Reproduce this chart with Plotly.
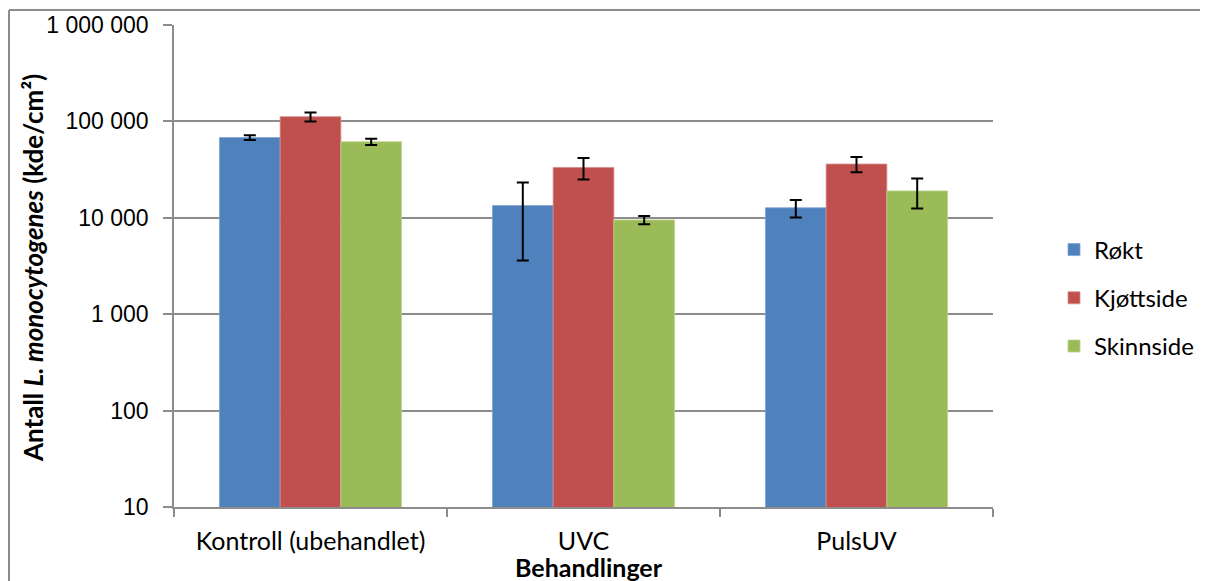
import plotly.graph_objects as go

categories = ["Kontroll (ubehandlet)", "UVC", "PulsUV"]
series_names = ["Røkt", "Kjøttside", "Skinnside"]
rokt = [68000, 13400, 12700]
rokt_err = [3800, 9800, 2600]
kjottside = [112000, 33300, 36100]
kjottside_err = [12000, 8300, 6500]
skinnside = [61500, 9500, 19000]
skinnside_err = [4700, 950, 6500]
tick_vals = [10, 100, 1000, 10000, 100000, 1000000]
tick_text = ["10", "100", "1 000", "10 000", "100 000", "1 000 000"]

colors = ["#4F81BD", "#C0504D", "#9BBB59"]
edge = ["#7FA3D1", "#D88A88", "#BCD38C"]

fig = go.Figure()
for i, (name, vals, errs, c, e) in enumerate(zip(series_names, [rokt, kjottside, skinnside],
                                  [rokt_err, kjottside_err, skinnside_err], colors, edge)):
    fig.add_trace(go.Bar(
        x=categories, y=vals, name=name, legendgroup=f"g{i}",
        marker=dict(color=c, line=dict(color=e, width=0.8)),
        error_y=dict(type="data", array=errs, visible=True, color="black",
                     thickness=2, width=6),
    ))

# page has an 8px body offset; compensate so plot area lands at x 174-993, y 25-507
OFF = 8
W, H = 1208 - OFF, 581 - OFF
L, T = 174 - OFF, 25 - OFF
pw, ph = 819, 482
R = W - L - pw
B = H - T - ph

FONT = "Lato, Calibri, sans-serif"

def px_x(x):  # page x -> paper x
    return (x - 174) / pw

def px_y(y):  # page y -> paper y
    return 1 - (y - 25) / ph

fig.update_layout(
    width=W, height=H,
    margin=dict(l=L, r=R, t=T, b=B, pad=0, autoexpand=False),
    paper_bgcolor="white", plot_bgcolor="white",
    barmode="group", bargap=0.333, bargroupgap=0,
    font=dict(family=FONT, size=24, color="black"),
    legend=dict(x=px_x(1054), y=px_y(298), xanchor="left", yanchor="middle",
                font=dict(family=FONT, size=24),
                tracegroupgap=14, bgcolor="rgba(0,0,0,0)"),
    showlegend=True,
    xaxis=dict(
        automargin=False,
        showline=True, linecolor="#8C8C8C", linewidth=1.5,
        ticks="outside", tickson="boundaries", ticklen=8, tickcolor="#8C8C8C", tickwidth=1.5,
        tickfont=dict(family=FONT, size=25),
        ticklabelstandoff=11,
        showgrid=False,
    ),
    yaxis=dict(
        automargin=False,
        type="log", range=[1, 6],
        tickvals=tick_vals, ticktext=tick_text,
        tickfont=dict(family="Liberation Sans, Arial, sans-serif", size=23),
        ticklabelstandoff=10,
        showline=True, linecolor="#8C8C8C", linewidth=1.5,
        ticks="outside", ticklen=9, tickcolor="#8C8C8C", tickwidth=1.5,
        showgrid=True, gridcolor="#8C8C8C", gridwidth=1.5,
        zeroline=False,
    ),
    annotations=[
        dict(text="<b>Antall <i>L. monocytogenes</i> (kde/cm²)</b>", textangle=-90,
             xref="paper", yref="paper", x=px_x(33), y=px_y(268),
             xanchor="center", yanchor="middle", showarrow=False,
             font=dict(family=FONT, size=26)),
        dict(text="<b>Behandlinger</b>",
             xref="paper", yref="paper", x=px_x(589), y=px_y(567),
             xanchor="center", yanchor="middle", showarrow=False,
             font=dict(family=FONT, size=25)),
    ],
)

# outer chart border (top and left visible in reference)
bx = px_x(9)
by = px_y(10)
fig.add_shape(type="line", xref="paper", yref="paper", x0=bx, x1=px_x(1215),
              y0=by, y1=by, line=dict(color="#8C8C8C", width=2))
fig.add_shape(type="line", xref="paper", yref="paper", x0=bx, x1=bx,
              y0=by, y1=px_y(590), line=dict(color="#8C8C8C", width=2))

fig.write_html("out.html")
